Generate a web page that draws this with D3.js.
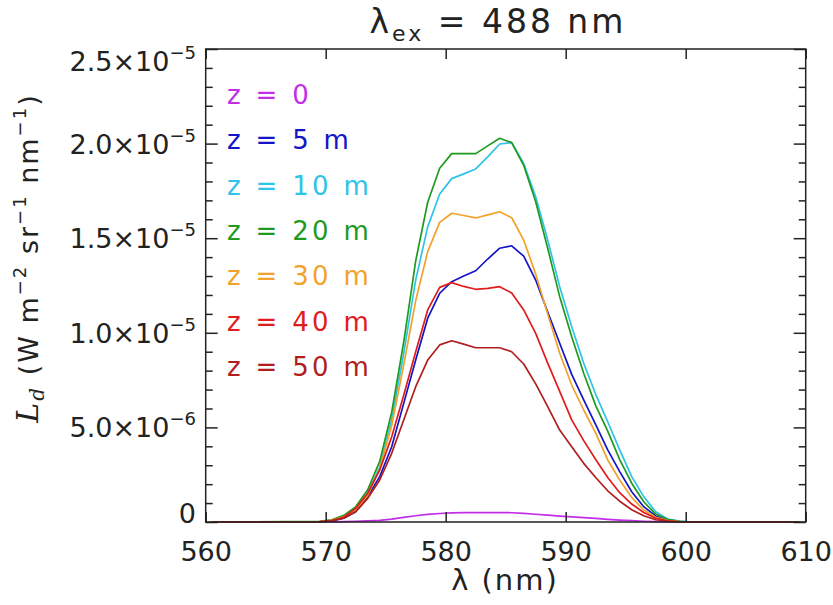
<!DOCTYPE html>
<html>
<head>
<meta charset="utf-8">
<script src="https://cdn.jsdelivr.net/npm/d3@7"></script>
<style>
  body { margin: 0; background: #fff; }
  svg { display: block; }
  text { font-family: "DejaVu Sans", sans-serif; fill: #222; }
</style>
</head>
<body>
<div id="chart"></div>
<script>
// wavelength (nm), bin centres
var wavelength = [560.5, 569.5, 570.5, 571.5, 572.5, 573.5, 574.5, 575.5, 576.5, 577.5, 578.5,
  579.5, 580.5, 581.5, 582.5, 583.5, 584.5, 585.5, 586.5, 587.5, 588.5, 589.5, 590.5,
  591.5, 592.5, 593.5, 594.5, 595.5, 596.5, 597.5, 598.5, 599.5, 600.5, 609.5];

// radiance in units of 1e-6 W m-2 sr-1 nm-1
var z0  = [0, 0, 0.01, 0.02, 0.04, 0.06, 0.09, 0.15, 0.24, 0.33, 0.40, 0.45, 0.48, 0.50, 0.50, 0.50, 0.50,
  0.49, 0.46, 0.41, 0.36, 0.31, 0.27, 0.23, 0.19, 0.14, 0.10, 0.07, 0.04, 0.02, 0.01, 0, 0, 0];
var z5  = [0, 0.01, 0.06, 0.2, 0.54, 1.34, 2.40, 3.98, 6.27, 8.56, 10.77, 12.09, 12.70, 13.0, 13.28, 13.9, 14.47,
  14.60, 14.05, 12.79, 11.1, 9.45, 7.8, 6.45, 5.15, 3.81, 2.66, 1.60, 0.81, 0.32, 0.09, 0.02, 0, 0];
var z10 = [0, 0.02, 0.1, 0.3, 0.7, 1.5, 2.9, 5.4, 8.9, 12.8, 15.6, 17.34, 18.15, 18.4, 18.66, 19.3, 19.98,
  20.05, 18.95, 17.19, 14.9, 12.44, 10.32, 8.39, 6.75, 5.3, 3.81, 2.40, 1.34, 0.54, 0.16, 0.05, 0, 0];
var z20 = [0, 0.03, 0.12, 0.35, 0.8, 1.7, 3.2, 5.8, 9.5, 13.8, 16.9, 18.7, 19.47, 19.47, 19.47, 19.88, 20.28,
  20.05, 18.85, 16.93, 14.47, 11.91, 9.79, 7.86, 6.15, 4.8, 3.3, 2.05, 1.07, 0.42, 0.13, 0.03, 0, 0];
var z30 = [0, 0.02, 0.1, 0.28, 0.65, 1.4, 2.8, 5.1, 8.3, 11.7, 14.29, 15.84, 16.32, 16.2, 16.07, 16.23, 16.40,
  16.08, 14.90, 13.1, 11.0, 8.92, 7.24, 5.92, 4.7, 3.28, 2.22, 1.30, 0.63, 0.25, 0.08, 0.02, 0, 0];
var z40 = [0, 0.02, 0.08, 0.25, 0.72, 1.52, 2.75, 4.5, 6.7, 9.0, 11.21, 12.40, 12.65, 12.45, 12.30, 12.35, 12.44,
  12.10, 11.21, 9.97, 8.4, 6.9, 5.4, 4.3, 3.3, 2.35, 1.55, 0.95, 0.5, 0.2, 0.06, 0.01, 0, 0];
var z50 = [0, 0.01, 0.06, 0.2, 0.54, 1.25, 2.22, 3.63, 5.39, 7.15, 8.56, 9.36, 9.58, 9.4, 9.21, 9.21, 9.21,
  9.0, 8.35, 7.3, 6.1, 4.86, 3.98, 3.10, 2.35, 1.65, 1.1, 0.65, 0.33, 0.12, 0.04, 0.01, 0, 0];

var seriesNames  = ["z = 0", "z = 5 m", "z = 10 m", "z = 20 m", "z = 30 m", "z = 40 m", "z = 50 m"];
var seriesValues = [z0, z5, z10, z20, z30, z40, z50];
var seriesColors = ["#c22ee6", "#1414c8", "#2ec3e8", "#1f9a1f", "#f2a22a", "#e01c1c", "#b01e1e"];

var xTicks = [560, 570, 580, 590, 600, 610];
var yTicks = [0, 5, 10, 15, 20, 25];
var yMinorTicks = [1, 2, 3, 4, 6, 7, 8, 9, 11, 12, 13, 14, 16, 17, 18, 19, 21, 22, 23, 24];
var yTickMantissa = ["0", "5.0×10", "1.0×10", "1.5×10", "2.0×10", "2.5×10"];
var yTickExponent = ["", "−6", "−5", "−5", "−5", "−5"];

var W = 833, H = 605;
var plotL = 205.7, plotR = 805.7, plotT = 49, plotB = 522;

var svg = d3.select("#chart").append("svg")
  .attr("width", W).attr("height", H);

var x = d3.scaleLinear().domain([560, 610]).range([plotL, plotR]);
var y = d3.scaleLinear().domain([0, 25]).range([plotB, plotT]);

// curves (drawn in the same order as the legend)
var line = d3.line()
  .x(function(d, i) { return x(wavelength[i]); })
  .y(function(d) { return y(d); });

seriesValues.forEach(function(vals, k) {
  svg.append("path")
    .datum(vals)
    .attr("fill", "none")
    .attr("stroke", seriesColors[k])
    .attr("stroke-width", 1.7)
    .attr("stroke-linejoin", "round")
    .attr("d", line);
});

// frame
svg.append("rect")
  .attr("x", plotL).attr("y", plotT)
  .attr("width", plotR - plotL).attr("height", plotB - plotT)
  .attr("fill", "none").attr("stroke", "#222").attr("stroke-width", 1.5);

var tickStroke = "#222";

// x ticks, bottom and top, pointing inward
svg.append("g").attr("transform", "translate(0," + plotB + ")")
  .call(d3.axisBottom(x).tickValues(xTicks).tickSizeInner(-10).tickSizeOuter(0).tickPadding(20).tickFormat(d3.format("d")))
  .call(function(g) {
    g.select(".domain").remove();
    g.selectAll("line").attr("stroke", tickStroke).attr("stroke-width", 1.5);
    g.selectAll("text").attr("font-size", 27).attr("fill", "#222")
      .attr("font-family", "DejaVu Sans, sans-serif");
  });
svg.append("g").attr("transform", "translate(0," + plotT + ")")
  .call(d3.axisTop(x).tickValues(xTicks).tickSizeInner(-10).tickSizeOuter(0).tickFormat(""))
  .call(function(g) {
    g.select(".domain").remove();
    g.selectAll("line").attr("stroke", tickStroke).attr("stroke-width", 1.5);
  });

// y ticks left and right: majors 12px, minors 7px
function yTicksAt(xpos, axisFn, vals, len) {
  svg.append("g").attr("transform", "translate(" + xpos + ",0)")
    .call(axisFn(y).tickValues(vals).tickSizeInner(-len).tickSizeOuter(0).tickFormat(""))
    .call(function(g) {
      g.select(".domain").remove();
      g.selectAll("line").attr("stroke", tickStroke).attr("stroke-width", 1.5);
    });
}
yTicksAt(plotL, d3.axisLeft, yTicks, 12);
yTicksAt(plotL, d3.axisLeft, yMinorTicks, 7);
yTicksAt(plotR, d3.axisRight, yTicks, 12);
yTicksAt(plotR, d3.axisRight, yMinorTicks, 7);

// y tick labels with superscript exponent
yTicks.forEach(function(v, i) {
  var shift = 0;
  if (i === 0) shift = -9;
  if (i === yTicks.length - 1) shift = 12;
  var t = svg.append("text")
    .attr("x", 196)
    .attr("y", y(v) + shift + 10)
    .attr("text-anchor", "end")
    .attr("font-size", 27);
  t.append("tspan").text(yTickMantissa[i]);
  if (yTickExponent[i]) {
    t.append("tspan").attr("dy", -12).attr("font-size", 18).text(yTickExponent[i]);
  }
});

// title
var title = svg.append("text")
  .attr("x", 498).attr("y", 33)
  .attr("text-anchor", "middle")
  .attr("font-size", 33)
  .attr("letter-spacing", 3);
title.append("tspan").text("λ");
title.append("tspan").attr("dy", 8).attr("font-size", 22).text("ex");
title.append("tspan").attr("dy", -8).text(" = 488 nm");

// x axis title
svg.append("text")
  .attr("x", 505).attr("y", 590)
  .attr("text-anchor", "middle")
  .attr("font-size", 29)
  .attr("letter-spacing", 2)
  .text("λ (nm)");

// y axis title
var ylab = svg.append("text")
  .attr("transform", "translate(38,258) rotate(-90)")
  .attr("text-anchor", "middle")
  .attr("font-size", 27)
  .attr("letter-spacing", 2);
ylab.append("tspan").attr("font-family", "DejaVu Serif, serif").attr("font-style", "italic").attr("font-size", 30).text("L");
ylab.append("tspan").attr("font-family", "DejaVu Serif, serif").attr("font-style", "italic").attr("font-size", 20).attr("dy", 6).text("d");
ylab.append("tspan").attr("dy", -6).text(" (W m");
ylab.append("tspan").attr("dy", -12).attr("font-size", 18).text("−2");
ylab.append("tspan").attr("dy", 12).text(" sr");
ylab.append("tspan").attr("dy", -12).attr("font-size", 18).text("−1");
ylab.append("tspan").attr("dy", 12).text(" nm");
ylab.append("tspan").attr("dy", -12).attr("font-size", 18).text("−1");
ylab.append("tspan").attr("dy", 12).text(")");

// legend
seriesNames.forEach(function(name, k) {
  svg.append("text")
    .attr("x", 227)
    .attr("y", 104 + k * 45.3)
    .attr("font-size", 26)
    .attr("letter-spacing", 3.3)
    .style("fill", seriesColors[k])
    .text(name);
});
</script>
</body>
</html>
